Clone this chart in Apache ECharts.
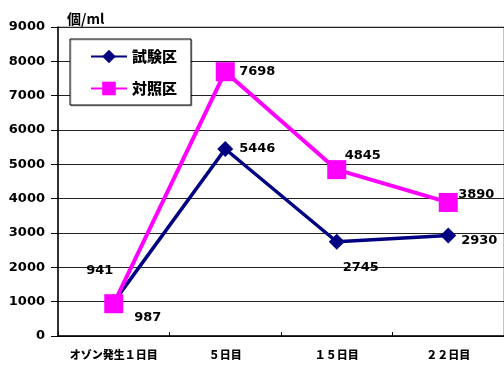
<!DOCTYPE html>
<html>
<head>
<meta charset="utf-8">
<script src="https://cdn.jsdelivr.net/npm/echarts@6/dist/echarts.min.js"></script>
<style>html,body{margin:0;padding:0;background:#fff;}#c{width:504px;height:365px;}</style>
</head>
<body>
<div id="c"></div>
<script>
const categories = ['オゾン発生１日目', '５日目', '１５日目', '２２日目'];
const seriesNames = ['試験区', '対照区'];
const testValues = [987, 5446, 2745, 2930];
const controlValues = [941, 7698, 4845, 3890];
const yTicks = { min: 0, max: 9000, interval: 1000 };
const unitLabel = '個/ml';

// label placement (pixel offsets from marker centre), kept apart from data
const testLabelOffsets = [[34, 16], [32, 0], [24, 26], [31, 5]];
const controlLabelOffsets = [[-14, -33], [32, 0], [26, -14], [28, -8]];

const numFont = { fontFamily: 'DejaVu Sans', fontWeight: 'bold', fontSize: 13, color: '#000' };

function withLabels(values, offsets) {
  return values.map((v, i) => ({
    value: v,
    label: { offset: offsets[i] }
  }));
}

const chart = echarts.init(document.getElementById('c'), null, { renderer: 'canvas' });
chart.setOption({
  animation: false,
  backgroundColor: '#fff',
  title: {
    text: unitLabel,
    left: 62, top: 7,
    textStyle: { fontFamily: 'Noto Sans CJK JP', fontWeight: 'bold', fontSize: 14, color: '#000' }
  },
  grid: { left: 58, top: 27, width: 450, height: 309, containLabel: false,
          show: true, borderColor: '#888', borderWidth: 1 },
  legend: {
    orient: 'vertical',
    left: 70, top: 39,
    padding: [10, 14, 9, 20],
    itemGap: 17,
    itemWidth: 36,
    itemHeight: 17,
    backgroundColor: '#fff',
    borderColor: '#000',
    borderWidth: 1,
    shadowColor: 'rgba(0,0,0,0.25)',
    shadowBlur: 0,
    shadowOffsetX: 1,
    shadowOffsetY: 1,
    textStyle: { fontFamily: 'Noto Sans CJK JP', fontWeight: 900, fontSize: 15, color: '#000' },
    data: seriesNames
  },
  xAxis: {
    type: 'category',
    data: categories,
    boundaryGap: true,
    axisLine: { lineStyle: { color: '#000', width: 1.5 } },
    axisTick: { show: true, inside: true, length: 4, interval: 0, lineStyle: { color: '#000' } },
    axisLabel: { interval: 0, margin: 13, fontFamily: 'Noto Sans CJK JP', fontWeight: 900, fontSize: 11, color: '#000' },
    splitLine: { show: false }
  },
  yAxis: {
    type: 'value',
    min: yTicks.min, max: yTicks.max, interval: yTicks.interval,
    axisLine: { show: true, lineStyle: { color: '#000', width: 1.5 } },
    axisTick: { show: true, inside: false, length: 7, lineStyle: { color: '#000' } },
    axisLabel: Object.assign({ margin: 13, formatter: v => String(v) }, numFont),
    splitLine: { show: true, lineStyle: { color: '#222', width: 1 } }
  },
  series: [
    {
      name: seriesNames[0],
      type: 'line',
      data: withLabels(testValues, testLabelOffsets),
      symbol: 'diamond',
      symbolSize: 16,
      lineStyle: { color: '#000080', width: 3.5 },
      itemStyle: { color: '#000080' },
      label: Object.assign({ show: true, position: 'inside', align: 'center', verticalAlign: 'middle' }, numFont),
      z: 2
    },
    {
      name: seriesNames[1],
      type: 'line',
      data: withLabels(controlValues, controlLabelOffsets),
      symbol: 'rect',
      symbolSize: 19,
      lineStyle: { color: '#ff00ff', width: 4 },
      itemStyle: { color: '#ff00ff' },
      label: Object.assign({ show: true, position: 'inside', align: 'center', verticalAlign: 'middle' }, numFont),
      z: 3
    }
  ]
});
</script>
</body>
</html>
